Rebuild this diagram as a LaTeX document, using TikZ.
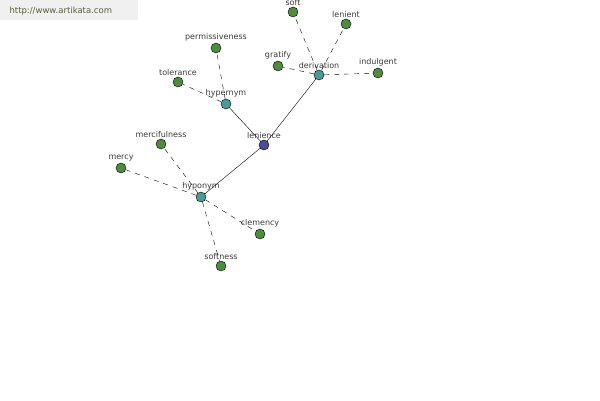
\documentclass[tikz,border=0pt]{standalone}
\usepackage{fontspec}
\setmainfont{DejaVu Sans}
\usepackage{tikz}
\usetikzlibrary{arrows}
\definecolor{leafgreen}{HTML}{4E8B3E}
\definecolor{hubteal}{HTML}{4A9A96}
\definecolor{rootblue}{HTML}{4A4A9E}
\definecolor{wordgray}{HTML}{3A3A3A}
\tikzset{
  word/.style = {circle, draw=black, thin, minimum size=10pt, inner sep=0pt,
    label distance=0.5pt},
  leaf/.style = {word, fill=leafgreen},
  hub/.style = {word, fill=hubteal},
  root/.style = {word, fill=rootblue},
  wordlabel/.style = {font=\fontsize{8}{9}\selectfont, text=wordgray, inner sep=1pt},
  link/.style = {thin, black},
  rel/.style = {thin, black, dash pattern=on 5pt off 5pt}
}

\begin{document}
\begin{tikzpicture}[x=1pt, y=-1pt]
\useasboundingbox (0,0) rectangle (600,400);
% watermark
\fill[gray!12] (0,0) rectangle (138,20);
\node [anchor=west, font=\fontsize{8.5}{9}\selectfont, text={rgb,255:red,85;green,95;blue,60}] (site) at (6,11) {http://www.artikata.com};

% centre and relations
\node [root, label={[wordlabel]above:lenience}] (lenience) at (264,145) {};
\node [hub, label={[wordlabel]above:hypernym}] (hypernym) at (226,104) {};
\node [hub, label={[wordlabel]above:derivation}] (derivation) at (319,75) {};
\node [hub, label={[wordlabel]above:hyponym}] (hyponym) at (201,197) {};

% words
\node [leaf, label={[wordlabel]above:permissiveness}] (permissiveness) at (216,48) {};
\node [leaf, label={[wordlabel]above:tolerance}] (tolerance) at (178,82) {};
\node [leaf, label={[wordlabel]above:soft}] (soft) at (293,12) {};
\node [leaf, label={[wordlabel]above:lenient}] (lenient) at (346,24) {};
\node [leaf, label={[wordlabel]above:gratify}] (gratify) at (278,66) {};
\node [leaf, label={[wordlabel]above:indulgent}] (indulgent) at (378,73) {};
\node [leaf, label={[wordlabel]above:mercifulness}] (mercifulness) at (161,144) {};
\node [leaf, label={[wordlabel]above:mercy}] (mercy) at (121,168) {};
\node [leaf, label={[wordlabel]above:clemency}] (clemency) at (260,234) {};
\node [leaf, label={[wordlabel]above:softness}] (softness) at (221,266) {};

\draw [link] (lenience) -- (hypernym);
\draw [link] (lenience) -- (derivation);
\draw [link] (lenience) -- (hyponym);

\foreach \w in {permissiveness, tolerance}
  \draw [rel] (hypernym) -- (\w);
\foreach \w in {soft, lenient, gratify, indulgent}
  \draw [rel] (derivation) -- (\w);
\foreach \w in {mercifulness, mercy, clemency, softness}
  \draw [rel] (hyponym) -- (\w);
\end{tikzpicture}
\end{document}
